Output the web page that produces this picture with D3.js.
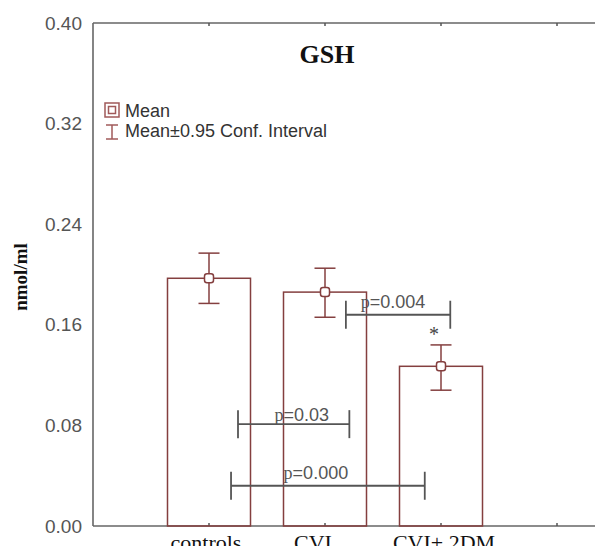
<!DOCTYPE html>
<html>
<head>
<meta charset="utf-8">
<script src="https://cdn.jsdelivr.net/npm/d3@7"></script>
<style>
  body { margin: 0; background: #fff; }
</style>
</head>
<body>
<div id="chart"></div>
<script>
// group means with 0.95 confidence intervals (GSH, nmol/ml)
var groups = ["controls", "CVI", "CVI+ 2DM"];
var means = [0.197, 0.186, 0.127];
var ciLow = [0.177, 0.166, 0.108];
var ciHigh = [0.217, 0.205, 0.144];

var yTicks = [0.00, 0.08, 0.16, 0.24, 0.32, 0.40];

// comparison brackets (x in category units, y in nmol/ml)
var pLabels = ["p=0.004", "p=0.03", "p=0.000"];
var pFrom = [2.18, 1.25, 1.19];
var pTo = [3.08, 2.21, 2.86];
var pLevel = [0.168, 0.081, 0.032];

var width = 595, height = 546;
var mLeft = 93, mTop = 23, mBottom = 526;

var barColor = "#843f3f";
var greyLine = "#666";

var svg = d3.select("#chart").append("svg")
    .attr("width", width)
    .attr("height", height)
    .style("font-family", "'Liberation Sans', Arial, sans-serif");

var x = d3.scaleLinear().domain([0, 5]).range([mLeft, mLeft + 5 * 116]);
var y = d3.scaleLinear().domain([0, 0.40]).range([mBottom, mTop]);

// frame lines (top, left, bottom)
svg.append("line").attr("x1", mLeft).attr("x2", width).attr("y1", mTop).attr("y2", mTop)
    .attr("stroke", greyLine).attr("stroke-width", 1.6);
svg.append("line").attr("x1", mLeft).attr("x2", width).attr("y1", mBottom).attr("y2", mBottom)
    .attr("stroke", greyLine).attr("stroke-width", 1.6);
svg.append("line").attr("x1", mLeft).attr("x2", mLeft).attr("y1", mTop).attr("y2", mBottom)
    .attr("stroke", greyLine).attr("stroke-width", 1.6);

// tiny inner ticks on top and bottom
var tickPos = [1, 2, 3, 4];
svg.selectAll(".ttick").data(tickPos).enter().append("line")
    .attr("x1", function(d) { return x(d); }).attr("x2", function(d) { return x(d); })
    .attr("y1", mTop).attr("y2", mTop + 3)
    .attr("stroke", "#555").attr("stroke-width", 1.5);
svg.selectAll(".btick").data(tickPos).enter().append("line")
    .attr("x1", function(d) { return x(d); }).attr("x2", function(d) { return x(d); })
    .attr("y1", mBottom).attr("y2", mBottom - 3)
    .attr("stroke", "#555").attr("stroke-width", 1.5);

// y axis
var yAxis = d3.axisLeft(y).tickValues(yTicks).tickSize(0).tickPadding(11)
    .tickFormat(d3.format(".2f"));
var gy = svg.append("g").attr("transform", "translate(" + mLeft + ",0)").call(yAxis);
gy.select(".domain").remove();
gy.selectAll("text")
    .attr("fill", "#555")
    .style("font-size", "19px")
    .style("font-family", "'Liberation Sans', Arial, sans-serif");

// y label
svg.append("text")
    .attr("transform", "translate(27,277) rotate(-90)")
    .attr("text-anchor", "middle")
    .style("font-family", "'Liberation Serif', 'Times New Roman', serif")
    .style("font-weight", "bold")
    .style("font-size", "19px")
    .attr("fill", "#111")
    .text("nmol/ml");

// title
svg.append("text")
    .attr("x", 327).attr("y", 63)
    .attr("text-anchor", "middle")
    .style("font-family", "'Liberation Serif', 'Times New Roman', serif")
    .style("font-weight", "bold")
    .style("font-size", "26px")
    .attr("fill", "#111")
    .text("GSH");

// bars
var barW = 83;
svg.selectAll(".bar").data(groups).enter().append("rect")
    .attr("x", function(d, i) { return x(i + 1) - barW / 2; })
    .attr("y", function(d, i) { return y(means[i]); })
    .attr("width", barW)
    .attr("height", function(d, i) { return y(0) - y(means[i]); })
    .attr("fill", "none")
    .attr("stroke", barColor)
    .attr("stroke-width", 1.5);

// error bars
var capW = 21;
groups.forEach(function(g, i) {
  var cx = x(i + 1);
  svg.append("line").attr("x1", cx).attr("x2", cx)
      .attr("y1", y(ciHigh[i])).attr("y2", y(ciLow[i]))
      .attr("stroke", barColor).attr("stroke-width", 1.5);
  [ciHigh[i], ciLow[i]].forEach(function(v) {
    svg.append("line").attr("x1", cx - capW / 2).attr("x2", cx + capW / 2)
        .attr("y1", y(v)).attr("y2", y(v))
        .attr("stroke", barColor).attr("stroke-width", 1.5);
  });
  svg.append("rect")
      .attr("x", cx - 4.5).attr("y", y(means[i]) - 4.5)
      .attr("width", 9).attr("height", 9).attr("rx", 2.5)
      .attr("fill", "#fff").attr("stroke", barColor).attr("stroke-width", 1.5);
});

// x labels (cut by the bottom edge, as in the source image)
svg.selectAll(".xlab").data(groups).enter().append("text")
    .attr("x", function(d, i) { return x(i + 1); })
    .attr("dx", function(d, i) { return i === 1 ? -12 : (i === 0 ? -3 : 3); })
    .attr("y", 550)
    .attr("text-anchor", "middle")
    .style("font-family", "'Liberation Serif', 'Times New Roman', serif")
    .style("font-size", "22px")
    .attr("fill", "#111")
    .text(function(d) { return d; });

// asterisk over CVI+2DM
svg.append("text")
    .attr("x", x(3) - 7).attr("y", y(ciHigh[2]) - 4)
    .attr("text-anchor", "middle")
    .style("font-family", "'Liberation Serif', 'Times New Roman', serif")
    .style("font-size", "20px")
    .attr("fill", "#444")
    .text("*");

// p-value brackets
var capH = 14;
var labelDx = [-5, 8, -12];
var labelDy = [-7, -3, -7];
pLabels.forEach(function(lab, i) {
  var x1 = x(pFrom[i]), x2 = x(pTo[i]), yy = y(pLevel[i]);
  var g = svg.append("g").attr("stroke", "#555").attr("stroke-width", 1.8);
  g.append("line").attr("x1", x1).attr("x2", x2).attr("y1", yy).attr("y2", yy);
  g.append("line").attr("x1", x1).attr("x2", x1).attr("y1", yy - capH).attr("y2", yy + capH);
  g.append("line").attr("x1", x2).attr("x2", x2).attr("y1", yy - capH).attr("y2", yy + capH);
  var t = svg.append("text")
      .attr("x", (x1 + x2) / 2 + labelDx[i])
      .attr("y", yy + labelDy[i])
      .attr("text-anchor", "middle")
      .attr("fill", "#555")
      .style("font-size", "18px");
  t.append("tspan")
      .style("font-family", "'Liberation Serif', 'Times New Roman', serif")
      .text(lab.slice(0, 1));
  t.append("tspan")
      .style("font-family", "'Liberation Sans', Arial, sans-serif")
      .text(lab.slice(1));
});

// legend
var lx = 112;
svg.append("rect").attr("x", lx - 7).attr("y", 103).attr("width", 14).attr("height", 14)
    .attr("fill", "#fff").attr("stroke", "#a05a5a").attr("stroke-width", 1.5);
svg.append("rect").attr("x", lx - 3.5).attr("y", 106.5).attr("width", 7).attr("height", 7)
    .attr("fill", "#fff").attr("stroke", "#a05a5a").attr("stroke-width", 1.5);
svg.append("line").attr("x1", lx).attr("x2", lx).attr("y1", 125).attr("y2", 139)
    .attr("stroke", "#a05a5a").attr("stroke-width", 1.5);
svg.append("line").attr("x1", lx - 6).attr("x2", lx + 6).attr("y1", 125).attr("y2", 125)
    .attr("stroke", "#a05a5a").attr("stroke-width", 1.5);
svg.append("line").attr("x1", lx - 6).attr("x2", lx + 6).attr("y1", 139).attr("y2", 139)
    .attr("stroke", "#a05a5a").attr("stroke-width", 1.5);
var legendText = ["Mean", "Mean\u00b10.95 Conf. Interval"];
svg.selectAll(".leg").data(legendText).enter().append("text")
    .attr("x", 125)
    .attr("y", function(d, i) { return 117 + i * 20; })
    .attr("fill", "#333")
    .style("font-size", "18px")
    .text(function(d) { return d; });
</script>
</body>
</html>
